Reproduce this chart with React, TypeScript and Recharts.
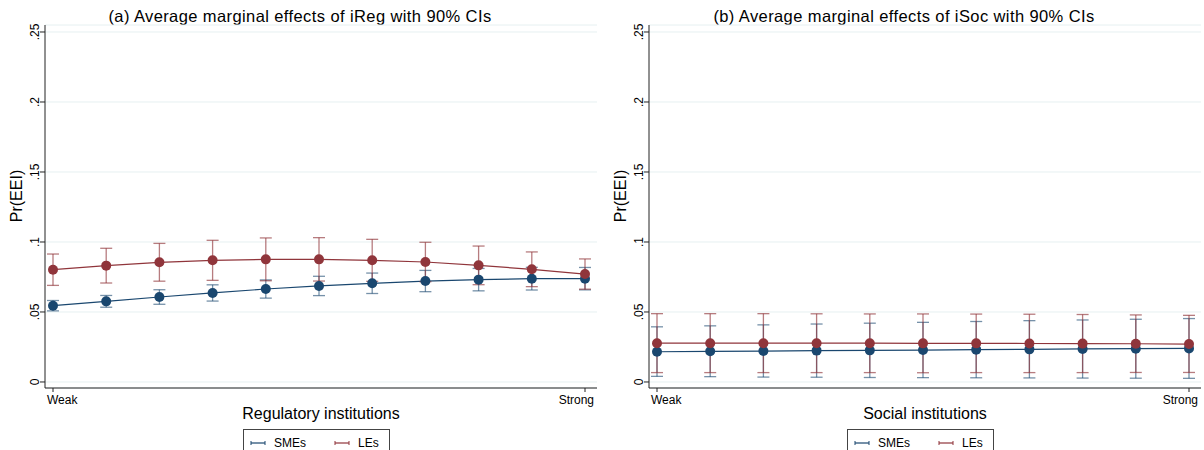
import React from 'react';
import { ComposedChart, Line, XAxis, YAxis, CartesianGrid, ErrorBar } from 'recharts';

// institution strength steps, weak -> strong
const steps = [0, 1, 2, 3, 4, 5, 6, 7, 8, 9, 10];
const yTicks = [0, 0.05, 0.1, 0.15, 0.2, 0.25];

// (a) regulatory institutions
const regSme = [0.0545, 0.0576, 0.0607, 0.0636, 0.0664, 0.0686, 0.0705, 0.0721, 0.0731, 0.0738, 0.0738];
const regSmeLow = [0.0508, 0.0534, 0.0555, 0.0578, 0.0599, 0.0617, 0.0632, 0.0645, 0.0651, 0.0657, 0.0658];
const regSmeHigh = [0.0582, 0.0618, 0.0659, 0.0694, 0.0729, 0.0755, 0.0778, 0.0797, 0.0811, 0.0819, 0.0818];
const regLe = [0.0802, 0.0831, 0.0855, 0.0869, 0.0876, 0.0876, 0.0869, 0.0857, 0.0833, 0.0805, 0.0771];
const regLeLow = [0.069, 0.0707, 0.072, 0.0726, 0.0723, 0.0721, 0.0719, 0.0716, 0.0695, 0.0681, 0.0663];
const regLeHigh = [0.0914, 0.0955, 0.099, 0.1012, 0.1029, 0.1031, 0.1019, 0.0998, 0.0971, 0.0929, 0.0879];

// (b) social institutions
const socSme = [0.0216, 0.0219, 0.0221, 0.0224, 0.0226, 0.0228, 0.0231, 0.0233, 0.0236, 0.0238, 0.024];
const socSmeLow = [0.004, 0.0038, 0.0035, 0.0034, 0.0032, 0.0031, 0.003, 0.0029, 0.0028, 0.0027, 0.0026];
const socSmeHigh = [0.0394, 0.0401, 0.0408, 0.0414, 0.042, 0.0426, 0.0432, 0.0438, 0.0443, 0.0448, 0.0453];
const socLe = [0.0277, 0.0277, 0.0277, 0.0277, 0.0277, 0.0276, 0.0276, 0.0275, 0.0274, 0.0273, 0.0271];
const socLeLow = [0.0067, 0.0067, 0.0067, 0.0067, 0.0067, 0.0066, 0.0067, 0.0067, 0.0067, 0.0068, 0.0068];
const socLeHigh = [0.0488, 0.0488, 0.0488, 0.0487, 0.0486, 0.0486, 0.0485, 0.0484, 0.0482, 0.0479, 0.0476];

const SME_COLOR = '#1a476f';
const LE_COLOR = '#90353b';
const FONT = '"Liberation Sans", Arial, sans-serif';

const buildRows = (sme: number[], smeLow: number[], smeHigh: number[], le: number[], leLow: number[], leHigh: number[]) =>
    steps.map((x, i) => ({
        x,
        sme: sme[i],
        smeErr: [sme[i] - smeLow[i], smeHigh[i] - sme[i]],
        le: le[i],
        leErr: [le[i] - leLow[i], leHigh[i] - le[i]],
    }));

const YTick = ({ x, y, payload }: any) => {
    const v = payload.value;
    const label = v === 0 ? '0' : String(v).replace(/^0/, '');
    return (
        <text x={x} y={y} transform={`rotate(-90 ${x} ${y})`} textAnchor="middle" fontSize={12} fontFamily={FONT} fill="#000">
            {label}
        </text>
    );
};

const XTick = ({ x, y, payload }: any) => {
    const weak = payload.value === 0;
    return (
        <text
            x={weak ? x - 6 : x + 9}
            y={y + 10}
            textAnchor={weak ? 'start' : 'end'}
            fontSize={12}
            fontFamily={FONT}
            fill="#000"
        >
            {weak ? 'Weak' : 'Strong'}
        </text>
    );
};

const LegendIcon = ({ color }: { color: string }) => (
    <svg width={16} height={8} style={{ marginRight: 8 }}>
        <line x1={1} y1={4} x2={15} y2={4} stroke={color} strokeWidth={1.2} />
        <line x1={1} y1={2} x2={1} y2={6} stroke={color} strokeWidth={1} />
        <line x1={15} y1={2} x2={15} y2={6} stroke={color} strokeWidth={1} />
    </svg>
);

interface PanelProps {
    left: number;
    title: string;
    xTitle: string;
    rows: any[];
}

const Panel = ({ left, title, xTitle, rows }: PanelProps) => (
    <div style={{ position: 'absolute', left, top: 0, width: 602, height: 450, fontFamily: FONT }}>
        <div
            style={{
                position: 'absolute',
                top: 7,
                left: 0,
                width: 600,
                textAlign: 'center',
                fontSize: 16.5,
                letterSpacing: 0.4,
                lineHeight: 1.15,
                color: '#000',
            }}
        >
            {title}
        </div>
        <div
            style={{
                position: 'absolute',
                left: 17,
                top: 196,
                fontSize: 16,
                transform: 'translate(-50%, -50%) rotate(-90deg)',
                whiteSpace: 'nowrap',
            }}
        >
            Pr(EEI)
        </div>
        <ComposedChart width={602} height={410} data={rows} margin={{ top: 25, right: 5, bottom: 0, left: 0 }}>
            <CartesianGrid vertical={false} stroke="#e6f0f1" strokeWidth={1} />
            <XAxis
                dataKey="x"
                type="number"
                domain={[0, 10]}
                ticks={[0, 10]}
                interval={0}
                padding={{ left: 8, right: 12 }}
                height={22}
                tickSize={4}
                tick={<XTick />}
                axisLine={{ stroke: '#222' }}
                tickLine={{ stroke: '#222' }}
            />
            <YAxis
                type="number"
                domain={[-0.0043, 0.255]}
                ticks={yTicks}
                interval={0}
                allowDataOverflow
                width={45}
                tickSize={5}
                tickMargin={1}
                tick={<YTick />}
                axisLine={{ stroke: '#222' }}
                tickLine={{ stroke: '#222' }}
            />
            <Line
                dataKey="sme"
                stroke={SME_COLOR}
                strokeWidth={1.2}
                dot={{ r: 5, fill: SME_COLOR, stroke: SME_COLOR, strokeWidth: 0 }}
                activeDot={false}
                isAnimationActive={false}
            >
                <ErrorBar dataKey="smeErr" direction="y" width={6} stroke={SME_COLOR} strokeOpacity={0.6} strokeWidth={1.3} />
            </Line>
            <Line
                dataKey="le"
                stroke={LE_COLOR}
                strokeWidth={1.2}
                dot={{ r: 5, fill: LE_COLOR, stroke: LE_COLOR, strokeWidth: 0 }}
                activeDot={false}
                isAnimationActive={false}
            >
                <ErrorBar dataKey="leErr" direction="y" width={6} stroke={LE_COLOR} strokeOpacity={0.65} strokeWidth={1.3} />
            </Line>
        </ComposedChart>
        <div style={{ position: 'absolute', top: 405, left: 45, width: 552, textAlign: 'center', fontSize: 16, color: '#000' }}>
            {xTitle}
        </div>
        <div
            style={{
                position: 'absolute',
                top: 429,
                left: 243,
                width: 147,
                height: 28,
                border: '1px solid #444',
                display: 'flex',
                alignItems: 'center',
                paddingLeft: 6,
                boxSizing: 'border-box',
                fontSize: 12,
            }}
        >
            <LegendIcon color={SME_COLOR} />
            <span style={{ marginRight: 28 }}>SMEs</span>
            <LegendIcon color={LE_COLOR} />
            <span>LEs</span>
        </div>
    </div>
);

export default function App() {
    const regRows = buildRows(regSme, regSmeLow, regSmeHigh, regLe, regLeLow, regLeHigh);
    const socRows = buildRows(socSme, socSmeLow, socSmeHigh, socLe, socLeLow, socLeHigh);
    return (
        <div style={{ position: 'absolute', left: 0, top: 0, width: 1204, height: 450, overflow: 'hidden', background: '#fff' }}>
            <Panel left={0} title="(a) Average marginal effects of iReg with 90% CIs" xTitle="Regulatory institutions" rows={regRows} />
            <Panel left={604} title="(b) Average marginal effects of iSoc with 90% CIs" xTitle="Social institutions" rows={socRows} />
        </div>
    );
}
